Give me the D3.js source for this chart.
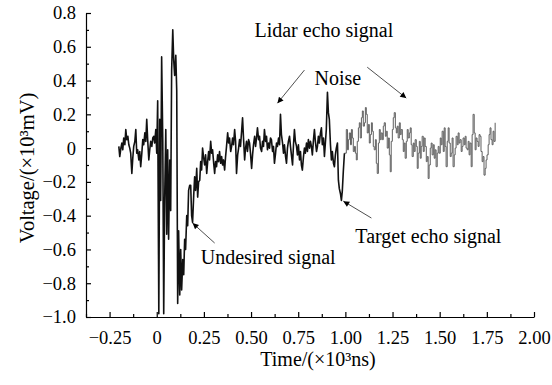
<!DOCTYPE html>
<html>
<head>
<meta charset="utf-8">
<script src="https://cdn.jsdelivr.net/npm/d3@7"></script>
<style>
  body { margin: 0; background: #fff; }
  svg { display: block; }
  text { font-family: "Liberation Serif", "Times New Roman", Times, "DejaVu Serif", serif; fill: #000; }
</style>
</head>
<body>
<div id="chart"></div>
<script>
// time in 10^3 ns, voltage in 10^3 mV
// black trace (fine sampling), up to the target echo
const echoNear = [
  [-0.201, 0.01], [-0.196, -0.05], [-0.19, 0.0], [-0.185, 0.03], [-0.18, -0.01], [-0.175, 0.06],
  [-0.169, 0.02], [-0.164, 0.11], [-0.159, 0.05], [-0.153, 0.07], [-0.148, 0.02], [-0.143, 0.0],
  [-0.138, -0.03], [-0.132, -0.15], [-0.127, -0.06], [-0.122, 0.01], [-0.116, 0.04], [-0.111, 0.11],
  [-0.106, -0.03], [-0.101, -0.01], [-0.095, -0.07], [-0.09, -0.02], [-0.085, -0.11], [-0.079, -0.03],
  [-0.074, 0.05], [-0.069, 0.02], [-0.063, 0.09], [-0.058, 0.04], [-0.053, 0.17], [-0.048, 0.05],
  [-0.042, -0.07], [-0.037, -0.01], [-0.032, 0.04], [-0.026, 0.01], [-0.021, 0.06], [-0.016, 0.07],
  [-0.011, 0.03], [-0.005, 0.11], [0.0, -0.03],
  [0.005, 0.28], [0.011, -0.98], [0.016, 0.17], [0.021, -0.31], [0.026, 0.54], [0.032, 0.05],
  [0.037, -0.98], [0.042, -0.31], [0.048, 0.11], [0.053, -0.51], [0.058, -0.01], [0.063, -0.54],
  [0.069, -0.07], [0.074, -0.37], [0.079, 0.46], [0.085, 0.7], [0.09, 0.52], [0.095, 0.43],
  [0.101, 0.55], [0.106, 0.34], [0.111, -0.92], [0.116, -0.49], [0.122, -0.87], [0.127, -0.6],
  [0.132, -0.84], [0.138, -0.66], [0.143, -0.75], [0.148, -0.54], [0.153, -0.6], [0.159, -0.4],
  [0.164, -0.46], [0.169, -0.25], [0.175, -0.22], [0.18, -0.22], [0.185, -0.4], [0.19, -0.44],
  [0.196, -0.28], [0.201, -0.17], [0.206, -0.25], [0.212, -0.12], [0.217, -0.29], [0.222, -0.2],
  [0.228, -0.19], [0.233, -0.08], [0.238, -0.13], [0.243, 0.0],
  [0.249, -0.06], [0.254, -0.1], [0.259, -0.04], [0.265, -0.15], [0.27, -0.08], [0.275, -0.02],
  [0.28, -0.07], [0.286, 0.04], [0.291, -0.03], [0.296, -0.01], [0.302, -0.09], [0.307, -0.15],
  [0.312, -0.08], [0.317, -0.11], [0.323, -0.04], [0.328, -0.08], [0.333, -0.02], [0.339, -0.09],
  [0.344, -0.05], [0.349, -0.1], [0.354, -0.07], [0.36, -0.13], [0.365, -0.05], [0.37, 0.01],
  [0.376, 0.09], [0.381, 0.03], [0.386, 0.06], [0.392, -0.02], [0.397, 0.01], [0.402, 0.06],
  [0.407, 0.02], [0.413, 0.11], [0.418, 0.04], [0.423, -0.15], [0.429, -0.04], [0.434, 0.0],
  [0.439, 0.05], [0.444, 0.01], [0.45, 0.1], [0.455, 0.18], [0.46, 0.06], [0.466, -0.07],
  [0.471, 0.0], [0.476, 0.04], [0.481, -0.02], [0.487, 0.05], [0.492, 0.03], [0.497, -0.03],
  [0.503, -0.12], [0.508, -0.04], [0.513, 0.02], [0.519, 0.07], [0.524, 0.01], [0.529, 0.06],
  [0.534, 0.12], [0.54, 0.05], [0.545, 0.07], [0.55, 0.0], [0.556, -0.02], [0.561, 0.04],
  [0.566, 0.01], [0.571, 0.11], [0.577, 0.04], [0.582, 0.07], [0.587, -0.01], [0.593, 0.03],
  [0.598, 0.0], [0.603, 0.06], [0.608, 0.05], [0.614, -0.02], [0.619, 0.01], [0.624, -0.09],
  [0.63, -0.03], [0.635, 0.03], [0.64, 0.01], [0.646, 0.06], [0.651, 0.02], [0.656, 0.2],
  [0.661, 0.08], [0.667, 0.03], [0.672, -0.03], [0.677, 0.02], [0.683, -0.05], [0.688, -0.09],
  [0.693, 0.0], [0.698, 0.04], [0.704, 0.07], [0.709, 0.01], [0.714, -0.04], [0.72, -0.1],
  [0.725, 0.02], [0.73, 0.11], [0.735, 0.04], [0.741, 0.01], [0.746, -0.04], [0.751, 0.02],
  [0.757, -0.07], [0.762, -0.02], [0.767, -0.1], [0.772, -0.13], [0.778, -0.05], [0.783, 0.0],
  [0.788, -0.03], [0.794, 0.03], [0.799, -0.02], [0.804, 0.05], [0.81, 0.0], [0.815, 0.04],
  [0.82, 0.01], [0.825, -0.04], [0.831, 0.05], [0.836, 0.11], [0.841, 0.04], [0.847, -0.02],
  [0.852, 0.01], [0.857, 0.07], [0.862, 0.03], [0.868, 0.09], [0.873, 0.12], [0.878, 0.02],
  [0.884, 0.06], [0.889, -0.05], [0.894, 0.03], [0.899, 0.11], [0.905, 0.33], [0.91, 0.21],
  [0.915, 0.17], [0.921, 0.02], [0.926, -0.07], [0.931, -0.02], [0.937, -0.09], [0.942, -0.11],
  [0.947, -0.04], [0.952, 0.0], [0.958, 0.03], [0.963, -0.19], [0.968, -0.24], [0.974, -0.27],
  [0.979, -0.31], [0.984, -0.25], [0.989, -0.14], [0.995, -0.03]
]

// gray trace (coarse, stepped), after the target echo
const echoFar = [
  [0.995, -0.03], [1.005, 0.11], [1.011, -0.01], [1.016, 0.05], [1.021, 0.09], [1.027, 0.02],
  [1.032, 0.11], [1.037, 0.06], [1.042, -0.02], [1.048, 0.01], [1.053, -0.03], [1.058, -0.07],
  [1.063, 0.04], [1.069, 0.12], [1.074, 0.15], [1.079, 0.06], [1.085, 0.18], [1.09, 0.22],
  [1.095, 0.13], [1.101, 0.15], [1.106, 0.24], [1.111, 0.2], [1.116, 0.09], [1.122, 0.14],
  [1.127, 0.03], [1.132, 0.08], [1.138, 0.15], [1.143, 0.1], [1.148, 0.01], [1.153, -0.01],
  [1.159, 0.05], [1.164, -0.09], [1.169, -0.15], [1.175, 0.03], [1.18, 0.11], [1.185, 0.05],
  [1.19, 0.09], [1.196, 0.05], [1.201, 0.13], [1.206, 0.15], [1.212, 0.07], [1.217, 0.1],
  [1.222, 0.0], [1.228, 0.06], [1.233, -0.04], [1.238, -0.14], [1.243, 0.04], [1.249, 0.11],
  [1.254, 0.18], [1.259, 0.21], [1.265, 0.12], [1.27, 0.09], [1.275, 0.13], [1.28, 0.06],
  [1.286, 0.15], [1.291, 0.08], [1.296, 0.11], [1.302, 0.05], [1.307, -0.02], [1.312, 0.03],
  [1.317, -0.06], [1.323, 0.04], [1.328, 0.11], [1.333, 0.06], [1.339, 0.09], [1.344, 0.12],
  [1.349, 0.02], [1.354, -0.05], [1.36, 0.03], [1.365, -0.02], [1.37, 0.05], [1.376, 0.01],
  [1.381, -0.12], [1.386, -0.03], [1.392, 0.04], [1.397, -0.06], [1.402, 0.01], [1.407, 0.07],
  [1.413, -0.02], [1.418, 0.06], [1.423, 0.01], [1.429, -0.08], [1.434, -0.05], [1.439, -0.18],
  [1.444, -0.1], [1.45, 0.0], [1.455, 0.03], [1.46, -0.04], [1.466, 0.02], [1.471, -0.06],
  [1.476, -0.01], [1.481, -0.11], [1.487, -0.03], [1.492, 0.01], [1.497, -0.03], [1.503, 0.06],
  [1.508, 0.02], [1.513, 0.1], [1.519, -0.02], [1.524, 0.12], [1.529, 0.01], [1.534, -0.11],
  [1.54, 0.04], [1.545, 0.12], [1.55, 0.03], [1.556, -0.05], [1.561, -0.03], [1.566, 0.06],
  [1.571, -0.11], [1.577, -0.04], [1.582, 0.0], [1.587, 0.07], [1.593, 0.02], [1.598, 0.09],
  [1.603, 0.03], [1.608, 0.05], [1.614, -0.02], [1.619, 0.01], [1.624, 0.06], [1.63, 0.02],
  [1.635, 0.07], [1.64, 0.0], [1.646, -0.01], [1.651, 0.04], [1.656, -0.04], [1.661, 0.03],
  [1.667, -0.11], [1.672, 0.08], [1.677, 0.2], [1.683, 0.09], [1.688, -0.01], [1.693, 0.06],
  [1.698, 0.04], [1.704, 0.01], [1.709, 0.08], [1.714, 0.07], [1.719, -0.02], [1.725, -0.08],
  [1.73, -0.05], [1.735, -0.16], [1.741, -0.12], [1.746, -0.07], [1.751, -0.04], [1.757, 0.02],
  [1.762, 0.08], [1.767, 0.12], [1.772, 0.05], [1.778, 0.02], [1.783, 0.1], [1.788, 0.04],
  [1.794, 0.15]
]

const xTicks = [-0.25, 0, 0.25, 0.5, 0.75, 1.0, 1.25, 1.5, 1.75, 2.0]
const xMinorTicks = [-0.375, -0.125, 0.125, 0.375, 0.625, 0.875, 1.125, 1.375, 1.625, 1.875]
const yTicks = [0.8, 0.6, 0.4, 0.2, 0, -0.2, -0.4, -0.6, -0.8, -1.0]
const yMinorTicks = [0.7, 0.5, 0.3, 0.1, -0.1, -0.3, -0.5, -0.7, -0.9]

const width = 552
const height = 385
const serif = "'Liberation Serif', 'Times New Roman', Times, 'DejaVu Serif', serif"

const x = d3.scaleLinear().domain([-0.375, 2.0]).range([86, 534])
const y = d3.scaleLinear().domain([-1.0, 0.8]).range([317, 13])

const fmtX = (d) => (d === 0 ? "0" : d3.format(".2f")(d).replace("-", "\u2212"))
const fmtY = (d) => (d === 0 ? "0" : d3.format(".1f")(d).replace("-", "\u2212"))

const svg = d3
  .select("#chart")
  .append("svg")
  .attr("width", width)
  .attr("height", height)
  .attr("font-family", serif)

// minor ticks
svg
  .append("g")
  .attr("transform", `translate(0,${y(-1.0)})`)
  .call(d3.axisBottom(x).tickValues(xMinorTicks).tickSize(-3).tickFormat(""))
  .call((g) => g.select(".domain").remove())

svg
  .append("g")
  .attr("transform", `translate(${x(-0.375)},0)`)
  .call(d3.axisLeft(y).tickValues(yMinorTicks).tickSize(-3).tickFormat(""))
  .call((g) => g.select(".domain").remove())

// main axes
svg
  .append("g")
  .attr("class", "axis")
  .attr("transform", `translate(0,${y(-1.0)})`)
  .call(
    d3.axisBottom(x).tickValues(xTicks).tickSizeInner(-5).tickSizeOuter(0).tickPadding(14).tickFormat(fmtX)
  )

svg
  .append("g")
  .attr("class", "axis")
  .attr("transform", `translate(${x(-0.375)},0)`)
  .call(
    d3.axisLeft(y).tickValues(yTicks).tickSizeInner(-5).tickSizeOuter(0).tickPadding(10).tickFormat(fmtY)
  )

svg.selectAll("g").attr("font-family", serif).attr("font-size", 18.5)
svg.selectAll(".domain, .tick line").attr("stroke", "#000").attr("stroke-width", 1.2)

// traces
const line = d3
  .line()
  .x((d) => x(d[0]))
  .y((d) => y(d[1]))

svg
  .append("path")
  .datum(echoFar)
  .attr("fill", "none")
  .attr("stroke", "#5e5e5e")
  .attr("stroke-width", 1)
  .attr("d", line.curve(d3.curveStepAfter))

svg
  .append("path")
  .datum(echoNear)
  .attr("fill", "none")
  .attr("stroke", "#111")
  .attr("stroke-width", 1.6)
  .attr("stroke-linejoin", "round")
  .attr("d", line.curve(d3.curveLinear))

// axis titles
svg
  .append("text")
  .attr("x", 318)
  .attr("y", 366)
  .attr("text-anchor", "middle")
  .style("font-size", "20px")
  .text("Time/(\u00d710\u00b3ns)")

svg
  .append("text")
  .attr("transform", "translate(34,168) rotate(-90)")
  .attr("text-anchor", "middle")
  .style("font-size", "20.5px")
  .text("Voltage/(\u00d710\u00b3mV)")

// annotations (positions in data units)
const notes = [
  { label: "Lidar echo signal", t: 0.886, v: 0.657, anchor: "middle" },
  { label: "Noise", t: 0.96, v: 0.373, anchor: "middle" },
  { label: "Target echo signal", t: 1.053, v: -0.562, anchor: "start" },
  { label: "Undesired signal", t: 0.233, v: -0.686, anchor: "start" },
]

const arrows = [
  { from: [0.783, 0.462], to: [0.64, 0.266] },
  { from: [1.116, 0.479], to: [1.323, 0.296] },
  { from: [1.138, -0.414], to: [0.989, -0.314] },
  { from: [0.307, -0.562], to: [0.19, -0.444] },
]

svg
  .selectAll(".note")
  .data(notes)
  .join("text")
  .attr("class", "note")
  .attr("x", (d) => x(d.t))
  .attr("y", (d) => y(d.v))
  .attr("text-anchor", (d) => d.anchor)
  .style("font-size", "20px")
  .text((d) => d.label)

svg
  .append("defs")
  .append("marker")
  .attr("id", "head")
  .attr("viewBox", "0 0 10 10")
  .attr("refX", 10)
  .attr("refY", 5)
  .attr("markerWidth", 8)
  .attr("markerHeight", 6)
  .attr("markerUnits", "userSpaceOnUse")
  .attr("orient", "auto")
  .append("path")
  .attr("d", "M0,0L10,5L0,10Z")
  .attr("fill", "#000")

svg
  .selectAll(".arrow")
  .data(arrows)
  .join("line")
  .attr("class", "arrow")
  .attr("x1", (d) => x(d.from[0]))
  .attr("y1", (d) => y(d.from[1]))
  .attr("x2", (d) => x(d.to[0]))
  .attr("y2", (d) => y(d.to[1]))
  .attr("stroke", "#222")
  .attr("stroke-width", 0.8)
  .attr("marker-end", "url(#head)")
</script>
</body>
</html>
